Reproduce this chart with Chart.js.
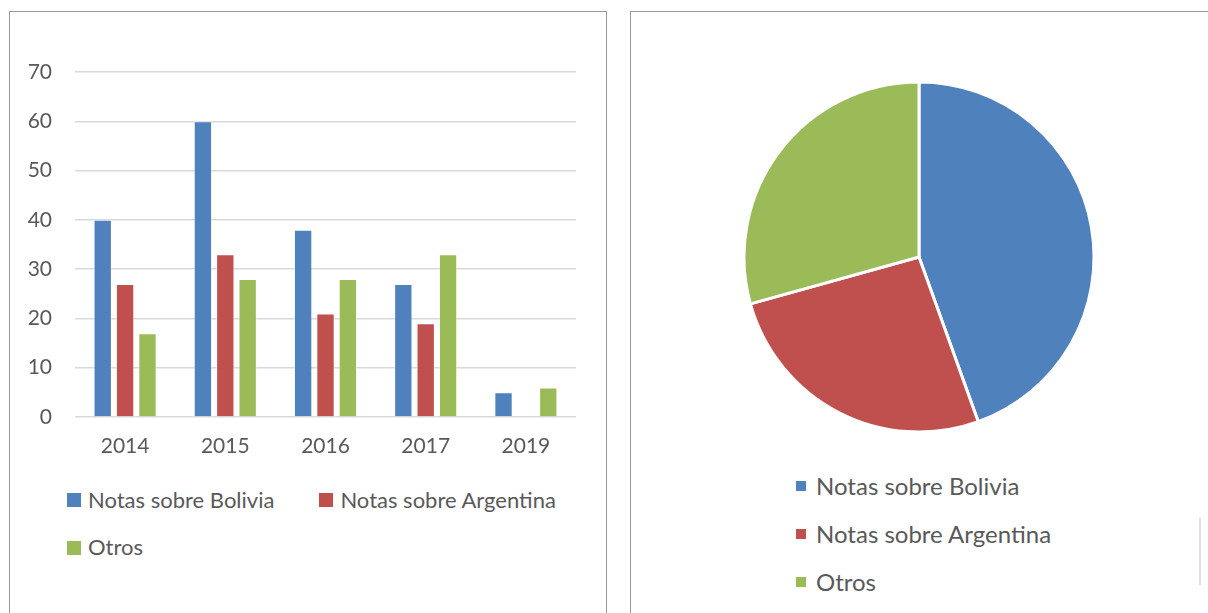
<!DOCTYPE html>
<html>
<head>
<meta charset="utf-8">
<script src="https://cdn.jsdelivr.net/npm/chart.js@4"></script>
<style>
  body { margin: 0; width: 1208px; height: 613px; overflow: hidden; background: #fff; font-family: Lato, sans-serif; color: #595959; }
  .panel { position: absolute; border: 1px solid #9a9a9a; background: #fff; }
  .legend { position: absolute; display: flex; flex-wrap: wrap; margin: 0; padding: 0; list-style: none; line-height: 1.2; }
  .legend li { display: flex; align-items: center; white-space: nowrap; }
  .legend span.box { display: inline-block; }
</style>
</head>
<body>
<div class="panel" style="left:9px; top:11px; width:596px; height:640px;"></div>
<div class="panel" style="left:630px; top:11px; width:640px; height:640px;"></div>
<div style="position:absolute; left:1199px; top:518px; width:2px; height:67px; background:#e0e0e0;"></div>

<div style="position:absolute; left:0; top:0; width:606px; height:480px;"><canvas id="barChart"></canvas></div>
<ul id="barLegend" class="legend" style="left:67px; top:487px; width:540px; column-gap:45px; row-gap:21px; font-size:22px;"></ul>

<div style="position:absolute; left:739px; top:77px; width:360px; height:360px;"><canvas id="pieChart"></canvas></div>
<ul id="pieLegend" class="legend" style="left:796px; top:472px; width:360px; flex-direction:column; row-gap:19px; font-size:24px;"></ul>

<script>
// datos del gráfico de barras
const years = ['2014', '2015', '2016', '2017', '2019'];
const bolivia = [40, 60, 38, 27, 5];
const argentina = [27, 33, 21, 19, 0];
const otros = [17, 28, 28, 33, 6];
const seriesNames = ['Notas sobre Bolivia', 'Notas sobre Argentina', 'Otros'];
const seriesColors = ['#4F81BD', '#C0504D', '#9BBB59'];
const yMax = 70;
const yStep = 10;

// totales del gráfico de pastel
const pieLabels = ['Notas sobre Bolivia', 'Notas sobre Argentina', 'Otros'];
const pieValues = [170, 100, 112];

const textColor = '#595959';
Chart.defaults.font.family = 'Lato, sans-serif';
Chart.defaults.color = textColor;

const barChart = new Chart(document.getElementById('barChart'), {
  type: 'bar',
  data: {
    labels: years,
    datasets: [bolivia, argentina, otros].map((values, i) => ({
      label: seriesNames[i],
      data: values,
      backgroundColor: seriesColors[i],
      borderColor: 'rgba(255,255,255,0.45)',
      borderWidth: 1,
      categoryPercentage: 0.67,
      barPercentage: 0.82
    }))
  },
  options: {
    responsive: true,
    maintainAspectRatio: false,
    animation: false,
    layout: { padding: { top: 72, right: 30, left: 0, bottom: 0 } },
    plugins: { legend: { display: false }, tooltip: { enabled: false } },
    scales: {
      x: {
        grid: { display: false, drawTicks: false },
        border: { display: false },
        ticks: { font: { size: 21 }, padding: 17, color: textColor },
        afterFit: (scale) => { scale.height = 63; }
      },
      y: {
        min: 0,
        max: yMax,
        ticks: { stepSize: yStep, font: { size: 21 }, padding: 23, color: textColor },
        grid: { color: '#d9d9d9', lineWidth: 1.5, drawTicks: false },
        border: { display: false },
        afterFit: (scale) => { scale.width = 75; }
      }
    }
  }
});

const pieChart = new Chart(document.getElementById('pieChart'), {
  type: 'pie',
  data: {
    labels: pieLabels,
    datasets: [{
      data: pieValues,
      backgroundColor: seriesColors,
      borderColor: '#ffffff',
      borderWidth: 3
    }]
  },
  options: {
    responsive: true,
    maintainAspectRatio: false,
    animation: false,
    layout: { padding: 3.5 },
    plugins: { legend: { display: false }, tooltip: { enabled: false } }
  }
});

// leyendas en HTML a partir de los datos de cada gráfico
function buildLegend(el, names, colors, boxSize, gap) {
  names.forEach((name, i) => {
    const li = document.createElement('li');
    const box = document.createElement('span');
    box.className = 'box';
    box.style.width = boxSize + 'px';
    box.style.height = boxSize + 'px';
    box.style.marginRight = gap + 'px';
    box.style.background = colors[i];
    li.appendChild(box);
    li.appendChild(document.createTextNode(name));
    el.appendChild(li);
  });
}
buildLegend(document.getElementById('barLegend'), barChart.data.datasets.map(d => d.label), barChart.data.datasets.map(d => d.backgroundColor), 14, 7);
buildLegend(document.getElementById('pieLegend'), pieChart.data.labels, pieChart.data.datasets[0].backgroundColor, 10, 10);
</script>
</body>
</html>
